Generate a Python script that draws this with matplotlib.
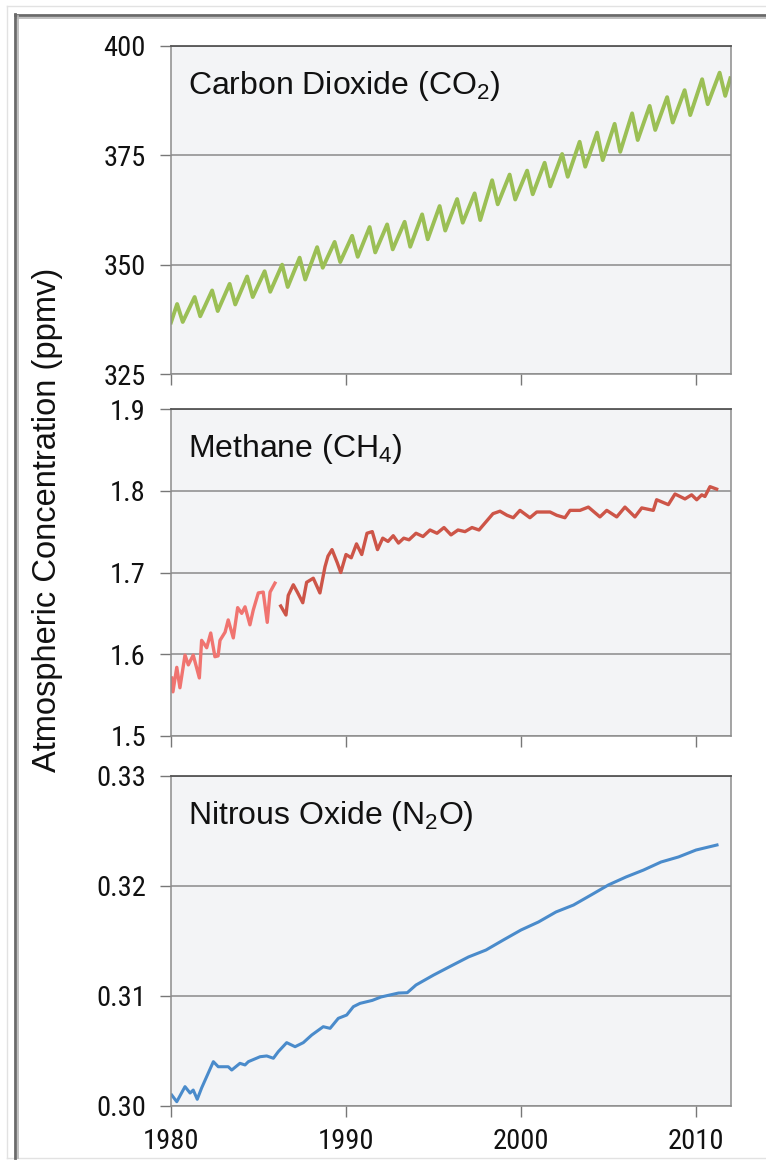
import matplotlib
matplotlib.use("Agg")
import matplotlib.pyplot as plt
from matplotlib.lines import Line2D
from matplotlib import font_manager as fm
import numpy as np

plt.rcParams['font.family'] = ['Liberation Sans', 'DejaVu Sans']
plt.rcParams['mathtext.fontset'] = 'custom'
plt.rcParams['mathtext.rm'] = 'Liberation Sans'
plt.rcParams['mathtext.it'] = 'Liberation Sans:italic'
plt.rcParams['mathtext.bf'] = 'Liberation Sans:bold'

# ---------------- data ----------------
co2_years = list(range(1980, 2012))
co2_peak = [341.0, 342.6, 344.1, 345.6, 347.3, 348.5, 350.0, 351.6, 354.0, 355.2,
            356.6, 358.6, 359.2, 359.8, 361.5, 363.4, 365.0, 366.3, 369.3, 370.6,
            371.5, 373.3, 375.3, 378.1, 380.2, 382.2, 384.6, 386.3, 388.3, 389.9,
            392.4, 393.9]
co2_trough = [336.9, 338.2, 339.4, 340.9, 342.6, 343.8, 344.9, 346.6, 349.3, 350.6,
              351.8, 352.8, 353.5, 354.1, 355.8, 357.8, 359.6, 360.2, 363.8, 364.9,
              366.1, 367.9, 370.1, 372.4, 373.9, 375.8, 378.5, 380.8, 382.5, 384.2,
              386.7, 388.6]
co2_start = (1980.0, 336.8)
co2_end = (2011.96, 392.6)
peak_month_frac = 0.35
trough_month_frac = 0.67

ch4_a_year = [1980.04, 1980.11, 1980.33, 1980.51, 1980.80, 1980.99, 1981.27, 1981.62,
              1981.75, 1982.04, 1982.27, 1982.51, 1982.69, 1982.80, 1983.09, 1983.27,
              1983.56, 1983.81, 1984.04, 1984.23, 1984.51, 1984.70, 1984.99, 1985.27,
              1985.50, 1985.66, 1985.94]
ch4_a_val = [1.571, 1.554, 1.584, 1.559, 1.599, 1.587, 1.599, 1.571,
             1.617, 1.608, 1.626, 1.597, 1.598, 1.617, 1.627, 1.642,
             1.620, 1.657, 1.650, 1.658, 1.636, 1.654, 1.675, 1.676,
             1.639, 1.676, 1.687]
ch4_b_year = [1986.27, 1986.57, 1986.70, 1986.99, 1987.22, 1987.53, 1987.75, 1988.13,
              1988.51, 1988.80, 1988.97, 1989.2, 1989.5, 1989.7, 1990.0, 1990.3,
              1990.6, 1990.9, 1991.2, 1991.5, 1991.8, 1992.1, 1992.4, 1992.7,
              1993.0, 1993.3, 1993.6, 1994.0, 1994.4, 1994.8, 1995.2, 1995.6,
              1996.0, 1996.4, 1996.8, 1997.2, 1997.6, 1998.0, 1998.4, 1998.8,
              1999.2, 1999.56, 1999.94, 2000.51, 2000.90, 2001.66, 2002.04, 2002.51,
              2002.80, 2003.37, 2003.85, 2004.51, 2004.90, 2005.47, 2005.94, 2006.51,
              2006.90, 2007.56, 2007.75, 2008.42, 2008.80, 2009.37, 2009.75, 2010.04,
              2010.33, 2010.51, 2010.80, 2011.18]
ch4_b_val = [1.659, 1.648, 1.672, 1.685, 1.676, 1.663, 1.688, 1.693,
             1.675, 1.707, 1.720, 1.728, 1.712, 1.700, 1.722, 1.718,
             1.735, 1.722, 1.748, 1.750, 1.728, 1.742, 1.738, 1.745,
             1.736, 1.742, 1.740, 1.748, 1.744, 1.752, 1.748, 1.755,
             1.746, 1.752, 1.750, 1.755, 1.752, 1.762, 1.772, 1.775,
             1.770, 1.767, 1.776, 1.767, 1.774, 1.774, 1.770, 1.767,
             1.776, 1.776, 1.780, 1.768, 1.776, 1.768, 1.780, 1.768,
             1.779, 1.776, 1.789, 1.783, 1.796, 1.790, 1.795, 1.789,
             1.795, 1.793, 1.805, 1.802]

n2o_year = [1980.04, 1980.33, 1980.80, 1981.09, 1981.27, 1981.50, 1981.75, 1982.42,
            1982.70, 1983.27, 1983.47, 1983.94, 1984.23, 1984.42, 1985.09, 1985.47,
            1985.85, 1986.13, 1986.61, 1987.09, 1987.56, 1988.04, 1988.70, 1989.09,
            1989.56, 1990.04, 1990.42, 1990.80, 1991.5, 1992.0, 1993.0, 1993.5,
            1994.0, 1995.0, 1996.0, 1997.0, 1998.0, 1999.0, 2000.0, 2001.0,
            2002.0, 2003.0, 2004.0, 2005.0, 2006.0, 2007.0, 2008.0, 2009.0,
            2010.0, 2011.2]
n2o_val = [0.30100, 0.30039, 0.30176, 0.30118, 0.30145, 0.30061, 0.30164, 0.30403,
           0.30357, 0.30357, 0.30327, 0.30388, 0.30373, 0.30403, 0.30448, 0.30455,
           0.30434, 0.30494, 0.30576, 0.30539, 0.30576, 0.30645, 0.30721, 0.30706,
           0.30797, 0.30827, 0.30903, 0.30933, 0.30960, 0.30991, 0.31027, 0.31030,
           0.31100, 0.31190, 0.31273, 0.31355, 0.31418, 0.31510, 0.31600, 0.31673,
           0.31764, 0.31827, 0.31918, 0.32010, 0.32082, 0.32145, 0.32218, 0.32264,
           0.32327, 0.32373]

x_ticks = [1980, 1990, 2000, 2010]
co2_ticks = [325, 350, 375, 400]
ch4_ticks = [1.5, 1.6, 1.7, 1.8, 1.9]
n2o_ticks = [0.30, 0.31, 0.32, 0.33]
titles = [r'Carbon Dioxide (CO$_{\mathregular{2}}$)',
          r'Methane (CH$_{\mathregular{4}}$)',
          r'Nitrous Oxide (N$_{\mathregular{2}}$O)']
ylabel = 'Atmospheric Concentration (ppmv)'

# build CO2 series from the read extremes
co2_t = [co2_start[0]]
co2_v = [co2_start[1]]
for yr, pk, tr in zip(co2_years, co2_peak, co2_trough):
    co2_t += [yr + peak_month_frac, yr + trough_month_frac]
    co2_v += [pk, tr]
co2_t.append(co2_end[0])
co2_v.append(co2_end[1])

# ---------------- narrow font for tick labels (if installed) ----------------
def pick_narrow_file():
    prefs = ['Liberation Sans Narrow', 'Arial Narrow', 'Noto Sans', 'Noto Sans Condensed',
             'Open Sans', 'Open Sans Condensed', 'Roboto Condensed', 'Roboto', 'DejaVu Sans']
    cands = []
    for f in fm.fontManager.ttflist:
        st = str(f.stretch).lower()
        nm = f.name
        narrowish = ('condensed' in st) or ('Narrow' in nm) or ('Condensed' in nm)
        if not narrowish:
            continue
        if 'extra' in st or 'ultra' in st:
            continue
        if f.style != 'normal':
            continue
        w = f.weight if isinstance(f.weight, (int, float)) else 400
        if w not in (400, 'normal', 'regular'):
            continue
        rank = prefs.index(nm) if nm in prefs else len(prefs)
        cands.append((rank, 0 if 'semi' not in st else 1, f.fname))
    if not cands:
        return None
    cands.sort()
    return cands[0][2]

narrow_file = pick_narrow_file()
if narrow_file:
    tick_fp = fm.FontProperties(fname=narrow_file, size=20.5)
else:
    tick_fp = fm.FontProperties(family=['Liberation Sans', 'DejaVu Sans'], size=19)

# ---------------- figure ----------------
W, H, DPI = 766, 1163, 100
fig = plt.figure(figsize=(W / DPI, H / DPI), dpi=DPI)
fig.patch.set_facecolor('white')

def px_axes(top, bottom, left=171, right=731):
    return fig.add_axes([left / W, 1 - bottom / H, (right - left) / W, (bottom - top) / H])

ax1 = px_axes(46, 374)
ax2 = px_axes(409, 736)
ax3 = px_axes(776, 1106)

face = '#f3f4f6'
grid_c = '#8a8a8a'

def style(ax, yticks, fmt, ylim, xlabels):
    ax.set_facecolor(face)
    ax.set_xlim(1980, 2012)
    ax.set_ylim(*ylim)
    ax.set_xticks(x_ticks)
    ax.set_xticklabels([str(v) for v in x_ticks] if xlabels else [''] * len(x_ticks),
                       fontproperties=tick_fp, color='#111111')
    ax.set_yticks(yticks)
    ax.set_yticklabels([fmt.format(v) for v in yticks], fontproperties=tick_fp,
                       color='#111111')
    ax.yaxis.grid(True, color=grid_c, linewidth=1.1)
    ax.set_axisbelow(True)
    for s in ['left', 'right', 'bottom']:
        ax.spines[s].set_color('#8c8c8c')
        ax.spines[s].set_linewidth(1.1)
    ax.spines['top'].set_color('#555555')
    ax.spines['top'].set_linewidth(1.3)
    ax.tick_params(axis='both', direction='out', length=8, width=1.0, color='#777777')
    ax.tick_params(axis='y', pad=10)
    ax.tick_params(axis='x', pad=8)

style(ax1, co2_ticks, '{:.0f}', (325, 400), False)
style(ax2, ch4_ticks, '{:.1f}', (1.5, 1.9), False)
style(ax3, n2o_ticks, '{:.2f}', (0.30, 0.33), True)

ax1.plot(co2_t, co2_v, color='#9bbf55', linewidth=2.8, solid_joinstyle='round')
ax2.plot(ch4_a_year, ch4_a_val, color='#f07470', linewidth=2.4, solid_joinstyle='round')
ax2.plot(ch4_b_year, ch4_b_val, color='#cd5548', linewidth=2.4, solid_joinstyle='round')
ax3.plot(n2o_year, n2o_val, color='#4a8bcb', linewidth=2.2, solid_joinstyle='round')

for ax, t in zip([ax1, ax2, ax3], titles):
    ax.text(17 / 560, 1 - 48 / 328, t, transform=ax.transAxes, fontsize=23,
            color='#111111', ha='left', va='baseline')

fig.text(48 / W, 1 - 520 / H, ylabel, rotation=90, fontsize=23.5, color='#111111',
         ha='center', va='center')

# decorative frame
def fline(xs, ys, **kw):
    fig.add_artist(Line2D([x / W for x in xs], [1 - y / H for y in ys],
                          transform=fig.transFigure, **kw))

fline([7, 766], [6, 6], color='#e2e2e2', linewidth=1.0)
fline([7, 7], [6, 1158], color='#e2e2e2', linewidth=1.0)
fline([7, 766], [1158, 1158], color='#e2e2e2', linewidth=1.0)
fline([15, 766], [15, 15], color='#6a6a6a', linewidth=2.0)
fline([16, 766], [17.5, 17.5], color='#b5b5b5', linewidth=1.2)
fline([15, 15], [14, 1158], color='#6a6a6a', linewidth=2.0)
fline([17.5, 17.5], [16, 1158], color='#b5b5b5', linewidth=1.2)

fig.savefig('out.png', dpi=DPI, facecolor='white')
